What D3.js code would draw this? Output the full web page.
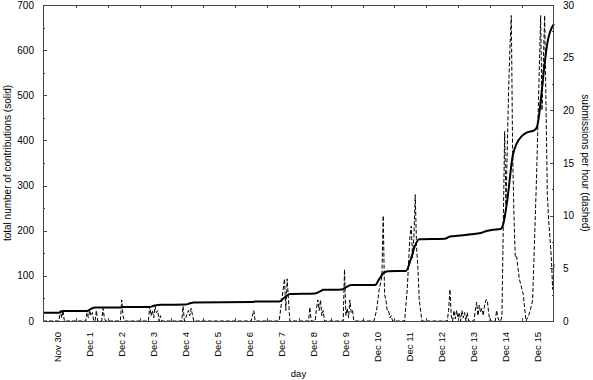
<!DOCTYPE html>
<html><head><meta charset="utf-8">
<script src="https://cdn.jsdelivr.net/npm/d3@7"></script>
<style>
body{margin:0;background:#fff;}
text{font-family:"Liberation Sans",Arial,Helvetica,sans-serif;fill:#000;}
</style></head>
<body><svg id="c" width="593" height="380"></svg>
<script>
// ---- data ----
const dayLabels = ["Nov 30","Dec 1","Dec 2","Dec 3","Dec 4","Dec 5","Dec 6","Dec 7","Dec 8","Dec 9","Dec 10","Dec 11","Dec 12","Dec 13","Dec 14","Dec 15"];
const dayHours = [0,24,48,72,96,120,144,168,192,216,240,264,288,312,336,360];
const frameTickHours = [13.5,37.5,61.5,85.2,109.1,132.9,156.9,180.9,204.6,228.6,252.3,276.3,300,324,348];
const leftTicks = [0,100,200,300,400,500,600,700];
const rightTicks = [0,5,10,15,20,25,30];

// cumulative contributions (solid, left axis): hour since Nov 30 00:00, value
const totalHours = [-11,1,4,22,25,28,47,49,69,72,78,96,98,102,146,148,166,170,174,193,197,199,213,215,220,238,241,245,248,261,265,268,271,290,294,300,310,317,322,326,332,334,337,341,344,348,352,357,359,361,363,365,367,369,372];
const totalValues = [18.5,18.5,22,22,27,30,30,31,31,34,36,36.5,38,41,42,43,43,52,60,61,66,69,70,73,80,80,93,108,110,111,140,168,181,182,187,189,192,195,200,202,204,215,268,365,393,410,418,422,428,460,515,570,615,640,658];

// submissions per hour (dashed, right axis)
const subHours = [-11,1,2,3,4,5,21,22,23,24,25,26,27,28,29,30,33,34,35,36,47,48,49,50,68,69,70,71,72,73,74,75,76,77,78,93,94,95,96,98,99,100,101,102,145,147,148,166,168,170,171,172,173,174,188,189,190,193,194,195,196,197,198,199,200,214,215,216,217,218,219,220,221,222,237,239,241,243,244,245,246,247,248,249,250,251,260,262,264,265,266,267,268,269,270,271,273,292,293,294,295,296,297,298,299,300,301,302,303,304,305,306,307,308,312,313,314,315,316,317,318,319,320,321,322,323,324,328,329,330,331,332,333,335,336,338,339,340,341,342,343,344,346,349,351,353,355,356,359,362,363,365,367,368,370,371,372];
const subValues = [0,0,1,0.3,1,0,0,0.8,0.3,1,0.5,0.8,0,0,1,0,0,1.2,0.3,0,0,2,0.5,0,0,1.4,0.5,1,0.3,1.4,0.8,1,0,0.5,0,0,1.4,0,0.3,1,0.5,1.2,0.6,0,0,1,0,0,2,4,1,4,2,0,0,1.3,0,0,1.2,2,1,2,0.5,1,0,0,4.9,0.5,1.2,0.3,2,0.8,1,0,0,1,3,4.2,10,2.5,2,1,1,0.3,0.5,0,0,3,8,9,6,8,12,7,5,2,0,0,1,3,0.5,0,1,0.2,1,0.3,0.8,0,1,0.3,0.8,0,0.8,0,0,1,1.8,0.5,1.5,0.8,1.2,0.5,1.5,2,2,0.8,0,0,1,0.3,0,0,0.5,18,11,22,26,29,16,10,6,6.1,4,2.5,0,0.5,1.4,2,14,29,20,29,12,9.6,6,3,5.5];

// ---- layout ----
const svg = d3.select("#c");
const L = 43, R = 554, T = 5, B = 321;
const x = d3.scaleLinear().domain([-11, 372]).range([L, R]);
const yL = d3.scaleLinear().domain([0, 700]).range([B, T]);
const yR = d3.scaleLinear().domain([0, 30]).range([B, T]);

const g = svg.append("g");

// dashed series
g.append("path")
  .datum(subHours.map((h, i) => [h, subValues[i]]))
  .attr("fill", "none").attr("stroke", "#000").attr("stroke-width", 1)
  .attr("stroke-dasharray", "4,2")
  .attr("d", d3.line().x(d => x(d[0])).y(d => yR(d[1])));

// solid series
g.append("path")
  .datum(totalHours.map((h, i) => [h, totalValues[i]]))
  .attr("fill", "none").attr("stroke", "#000").attr("stroke-width", 2)
  .attr("d", d3.line().curve(d3.curveMonotoneX).x(d => x(d[0])).y(d => yL(d[1])));

// frame
svg.append("rect").attr("x", L + 0.5).attr("y", T + 0.5).attr("width", R - L - 1).attr("height", B - T)
  .attr("fill", "none").attr("stroke", "#444").attr("stroke-width", 1);

// ticks
const tk = svg.append("g").attr("stroke", "#444").attr("stroke-width", 1);
d3.range(0, 701, 50).forEach(v => {
  const yy = Math.round(yL(v)) + 0.5;
  const len = v % 100 === 0 ? 4 : 2;
  tk.append("line").attr("x1", L).attr("x2", L + len).attr("y1", yy).attr("y2", yy);
});
d3.range(0, 30.01, 2.5).forEach(v => {
  const yy = Math.round(yR(v)) + 0.5;
  const len = v % 5 === 0 ? 4 : 2;
  tk.append("line").attr("x1", R).attr("x2", R - len).attr("y1", yy).attr("y2", yy);
});
frameTickHours.forEach(h => {
  const xx = Math.round(x(h)) + 0.5;
  tk.append("line").attr("x1", xx).attr("x2", xx).attr("y1", T).attr("y2", T + 3);
  tk.append("line").attr("x1", xx).attr("x2", xx).attr("y1", B).attr("y2", B - 3);
});

// left tick labels
svg.append("g").selectAll("text").data(leftTicks).join("text")
  .attr("x", 34).attr("y", d => yL(d)).attr("dy", "0.35em")
  .attr("text-anchor", "end").attr("font-size", 10).text(d => d);
// right tick labels
svg.append("g").selectAll("text").data(rightTicks).join("text")
  .attr("x", 563).attr("y", d => yR(d)).attr("dy", "0.35em")
  .attr("text-anchor", "start").attr("font-size", 10).text(d => d);
// x labels
svg.append("g").selectAll("text").data(dayLabels).join("text")
  .attr("transform", (d, i) => `translate(${x(dayHours[i])},332) rotate(-90)`)
  .attr("dy", "0.35em").attr("text-anchor", "end").attr("font-size", 9.5).text(d => d);

// titles
svg.append("text").attr("transform", "translate(11,163) rotate(-90)")
  .attr("text-anchor", "middle").attr("font-size", 10).text("total number of contributions (solid)");
svg.append("text").attr("transform", "translate(582,163) rotate(90)")
  .attr("text-anchor", "middle").attr("font-size", 10).text("submissions per hour (dashed)");
svg.append("text").attr("x", 298.5).attr("y", 377)
  .attr("text-anchor", "middle").attr("font-size", 9.5).text("day");
</script></body></html>
